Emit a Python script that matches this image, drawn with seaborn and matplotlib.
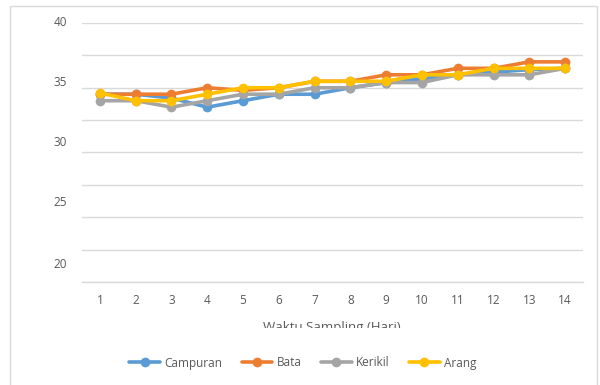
import matplotlib
matplotlib.use("Agg")
import matplotlib.pyplot as plt
from matplotlib.patches import Rectangle
from matplotlib.transforms import Bbox
import numpy as np
import pandas as pd
import seaborn as sns

# Sampling days
days = list(range(1, 15))

# Temperature readings per filter medium
campuran = [34.5, 34.5, 34.2, 33.5, 34.0, 34.5, 34.5, 35.0, 35.4, 35.7, 36.0, 36.2, 36.4, 36.5]
bata     = [34.5, 34.5, 34.5, 35.0, 34.8, 35.0, 35.5, 35.5, 36.0, 36.0, 36.5, 36.5, 37.0, 37.0]
kerikil  = [34.0, 34.0, 33.5, 34.0, 34.5, 34.5, 35.0, 35.0, 35.4, 35.4, 36.0, 36.0, 36.0, 36.5]
arang    = [34.6, 34.0, 34.0, 34.5, 35.0, 35.0, 35.5, 35.5, 35.5, 36.0, 36.0, 36.5, 36.5, 36.5]

series_names = ["Campuran", "Bata", "Kerikil", "Arang"]
colors = ["#5B9BD5", "#ED7D31", "#A5A5A5", "#FFC000"]

y_labels = ["40", "35", "30", "25", "20"]
x_title = "Waktu Sampling (Hari)"

df = pd.DataFrame({
    "Hari": days * 4,
    "Suhu": campuran + bata + kerikil + arang,
    "Media": sum([[n] * len(days) for n in series_names], []),
})

sns.set_style("white")
plt.rcParams["font.family"] = ["Open Sans", "DejaVu Sans"]

fig = plt.figure(figsize=(6.0, 3.85), dpi=100)
W, H = 600, 385
ax = fig.add_axes([82 / W, 1 - 282 / H, (583 - 82) / W, (282 - 23) / H])

# outer chart frame
fig.patches.append(Rectangle((10 / W, -0.05), (597 - 10) / W, 1 - 6 / H + 0.05,
                             transform=fig.transFigure, fill=False,
                             edgecolor="#D9D9D9", linewidth=1.0, zorder=0))

sns.lineplot(data=df, x="Hari", y="Suhu", hue="Media", hue_order=series_names,
             palette=dict(zip(series_names, colors)), marker="o", markersize=7,
             markeredgewidth=0, linewidth=2.6, legend=False, ax=ax, zorder=3)

ax.set_xlim(0.5, 14.5)
ax.set_ylim(20, 40)
ax.set_yticks(np.arange(20, 40.01, 2.5))
ax.set_yticklabels([])
ax.set_xticks(days)
ax.set_xticklabels([str(d) for d in days], color="#595959", fontsize=8.5)
ax.tick_params(axis="both", length=0)
ax.tick_params(axis="x", pad=9)
ax.grid(axis="y", color="#D9D9D9", linewidth=1.0)
ax.set_axisbelow(True)
for s in ["top", "right", "left"]:
    ax.spines[s].set_visible(False)
ax.spines["bottom"].set_color("#D9D9D9")
ax.spines["bottom"].set_linewidth(1.0)
ax.set_xlabel("")
ax.set_ylabel("")

# value axis labels
label_rows = [23, 83, 143, 203, 264]
for txt, py in zip(y_labels, label_rows):
    ax.text(-15 / 501, (282 - py) / 259, txt, transform=ax.transAxes,
            ha="right", va="center", color="#595959", fontsize=8.5)

# axis title, cut off along the lower edge of its box
t = fig.text(332 / W, 1 - 328 / H, x_title, ha="center", va="center",
             color="#595959", fontsize=9.5)
t.set_clip_box(Bbox.from_extents(0, H - 328, W, H))
t.set_clip_on(True)

handles = ax.get_lines()[:4]
fig.legend(handles, series_names, loc="center", bbox_to_anchor=(303 / W, 1 - 363 / H),
           ncol=4, frameon=False, fontsize=8.5, handlelength=2.6, columnspacing=1.6,
           handletextpad=0.4, labelcolor="#595959")

fig.savefig("out.png", dpi=100, facecolor="white")
